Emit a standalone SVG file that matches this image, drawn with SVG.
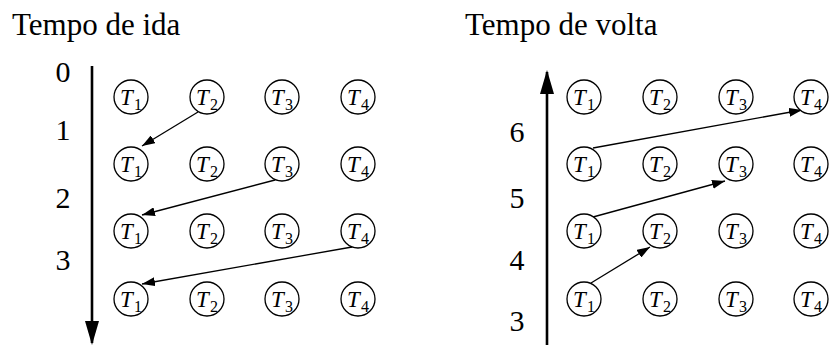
<svg xmlns="http://www.w3.org/2000/svg" width="830" height="345" viewBox="0 0 830 345">
<style>
text{font-family:"Liberation Serif","Times New Roman",serif;fill:#000}
.title{font-size:31px}
.num{font-size:30px;text-anchor:middle}
.c{fill:#fff;stroke:#000;stroke-width:1.3}
.t{font-style:italic;font-size:23px}
.s{font-size:16px}
.e{stroke:#000;stroke-width:1.3;fill:none;marker-end:url(#ah)}
.ax{stroke:#000;stroke-width:2.6;fill:none;marker-end:url(#axh)}
</style>
<defs>
<marker id="ah" markerUnits="userSpaceOnUse" markerWidth="13" markerHeight="9" refX="13" refY="4.5" orient="auto"><path d="M0,0 L13,4.5 L0,9 z" fill="#000"/></marker>
<marker id="axh" markerUnits="userSpaceOnUse" markerWidth="24" markerHeight="14" refX="22" refY="7" orient="auto"><path d="M0,0 L24,7 L0,14 z" fill="#000"/></marker>
</defs>
<text class="title" x="12" y="35">Tempo de ida</text>
<text class="title" x="465" y="35">Tempo de volta</text>
<g id="axis-left">
<line class="ax" x1="92" y1="66" x2="92" y2="343"/>
<text class="num" x="63" y="82">0</text>
<text class="num" x="63" y="140">1</text>
<text class="num" x="63" y="208">2</text>
<text class="num" x="63" y="270">3</text>
</g>
<g id="axis-right">
<line class="ax" x1="547" y1="345" x2="547" y2="72"/>
<text class="num" x="517" y="142">6</text>
<text class="num" x="517" y="208">5</text>
<text class="num" x="517" y="270">4</text>
<text class="num" x="517" y="331">3</text>
</g>
<g id="connectors">
<line class="e" x1="198" y1="112" x2="142" y2="146"/>
<line class="e" x1="275" y1="180" x2="142" y2="215"/>
<line class="e" x1="352" y1="247" x2="142" y2="284"/>
<line class="e" x1="591" y1="283" x2="650" y2="247"/>
<line class="e" x1="593" y1="217" x2="725" y2="181"/>
<line class="e" x1="593" y1="148" x2="802" y2="110"/>
</g>
<g id="left-nodes">
<g id="L-1-1"><circle class="c" cx="131" cy="97" r="17"/><text class="t" x="120" y="105">T</text><text class="s" x="134" y="110">1</text></g>
<g id="L-1-2"><circle class="c" cx="207" cy="97" r="17"/><text class="t" x="196" y="105">T</text><text class="s" x="210" y="110">2</text></g>
<g id="L-1-3"><circle class="c" cx="282" cy="97" r="17"/><text class="t" x="271" y="105">T</text><text class="s" x="285" y="110">3</text></g>
<g id="L-1-4"><circle class="c" cx="358" cy="97" r="17"/><text class="t" x="347" y="105">T</text><text class="s" x="361" y="110">4</text></g>
<g id="L-2-1"><circle class="c" cx="131" cy="164" r="17"/><text class="t" x="120" y="172">T</text><text class="s" x="134" y="177">1</text></g>
<g id="L-2-2"><circle class="c" cx="207" cy="164" r="17"/><text class="t" x="196" y="172">T</text><text class="s" x="210" y="177">2</text></g>
<g id="L-2-3"><circle class="c" cx="282" cy="164" r="17"/><text class="t" x="271" y="172">T</text><text class="s" x="285" y="177">3</text></g>
<g id="L-2-4"><circle class="c" cx="358" cy="164" r="17"/><text class="t" x="347" y="172">T</text><text class="s" x="361" y="177">4</text></g>
<g id="L-3-1"><circle class="c" cx="131" cy="231" r="17"/><text class="t" x="120" y="239">T</text><text class="s" x="134" y="244">1</text></g>
<g id="L-3-2"><circle class="c" cx="207" cy="231" r="17"/><text class="t" x="196" y="239">T</text><text class="s" x="210" y="244">2</text></g>
<g id="L-3-3"><circle class="c" cx="282" cy="231" r="17"/><text class="t" x="271" y="239">T</text><text class="s" x="285" y="244">3</text></g>
<g id="L-3-4"><circle class="c" cx="358" cy="231" r="17"/><text class="t" x="347" y="239">T</text><text class="s" x="361" y="244">4</text></g>
<g id="L-4-1"><circle class="c" cx="131" cy="299" r="17"/><text class="t" x="120" y="307">T</text><text class="s" x="134" y="312">1</text></g>
<g id="L-4-2"><circle class="c" cx="207" cy="299" r="17"/><text class="t" x="196" y="307">T</text><text class="s" x="210" y="312">2</text></g>
<g id="L-4-3"><circle class="c" cx="282" cy="299" r="17"/><text class="t" x="271" y="307">T</text><text class="s" x="285" y="312">3</text></g>
<g id="L-4-4"><circle class="c" cx="358" cy="299" r="17"/><text class="t" x="347" y="307">T</text><text class="s" x="361" y="312">4</text></g>
</g>
<g id="right-nodes">
<g id="R-1-1"><circle class="c" cx="584" cy="97" r="17"/><text class="t" x="573" y="105">T</text><text class="s" x="587" y="110">1</text></g>
<g id="R-1-2"><circle class="c" cx="660" cy="97" r="17"/><text class="t" x="649" y="105">T</text><text class="s" x="663" y="110">2</text></g>
<g id="R-1-3"><circle class="c" cx="736" cy="97" r="17"/><text class="t" x="725" y="105">T</text><text class="s" x="739" y="110">3</text></g>
<g id="R-1-4"><circle class="c" cx="811" cy="97" r="17"/><text class="t" x="800" y="105">T</text><text class="s" x="814" y="110">4</text></g>
<g id="R-2-1"><circle class="c" cx="584" cy="164" r="17"/><text class="t" x="573" y="172">T</text><text class="s" x="587" y="177">1</text></g>
<g id="R-2-2"><circle class="c" cx="660" cy="164" r="17"/><text class="t" x="649" y="172">T</text><text class="s" x="663" y="177">2</text></g>
<g id="R-2-3"><circle class="c" cx="736" cy="164" r="17"/><text class="t" x="725" y="172">T</text><text class="s" x="739" y="177">3</text></g>
<g id="R-2-4"><circle class="c" cx="811" cy="164" r="17"/><text class="t" x="800" y="172">T</text><text class="s" x="814" y="177">4</text></g>
<g id="R-3-1"><circle class="c" cx="584" cy="231" r="17"/><text class="t" x="573" y="239">T</text><text class="s" x="587" y="244">1</text></g>
<g id="R-3-2"><circle class="c" cx="660" cy="231" r="17"/><text class="t" x="649" y="239">T</text><text class="s" x="663" y="244">2</text></g>
<g id="R-3-3"><circle class="c" cx="736" cy="231" r="17"/><text class="t" x="725" y="239">T</text><text class="s" x="739" y="244">3</text></g>
<g id="R-3-4"><circle class="c" cx="811" cy="231" r="17"/><text class="t" x="800" y="239">T</text><text class="s" x="814" y="244">4</text></g>
<g id="R-4-1"><circle class="c" cx="584" cy="299" r="17"/><text class="t" x="573" y="307">T</text><text class="s" x="587" y="312">1</text></g>
<g id="R-4-2"><circle class="c" cx="660" cy="299" r="17"/><text class="t" x="649" y="307">T</text><text class="s" x="663" y="312">2</text></g>
<g id="R-4-3"><circle class="c" cx="736" cy="299" r="17"/><text class="t" x="725" y="307">T</text><text class="s" x="739" y="312">3</text></g>
<g id="R-4-4"><circle class="c" cx="811" cy="299" r="17"/><text class="t" x="800" y="307">T</text><text class="s" x="814" y="312">4</text></g>
</g>
</svg>
